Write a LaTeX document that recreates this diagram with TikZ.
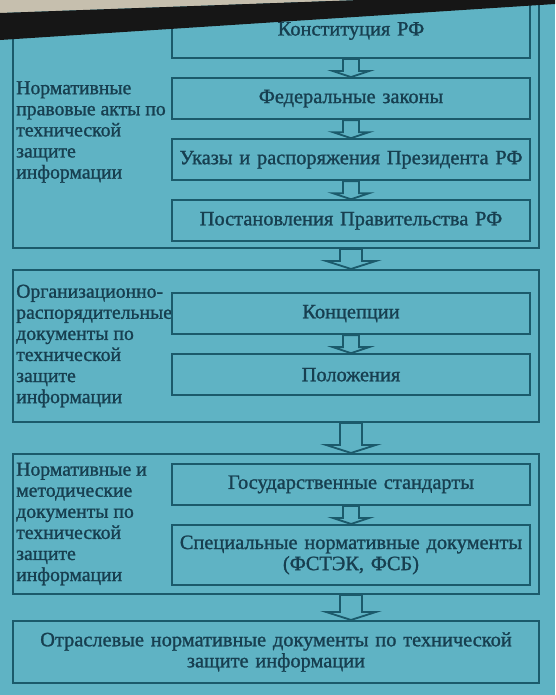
\documentclass[tikz,border=0pt]{standalone}
\usepackage{fontspec}
\setmainfont[FakeBold=1.2]{Liberation Serif}
\usetikzlibrary{positioning,calc}
\definecolor{slidebg}{HTML}{5FB3C4}
\definecolor{frame}{HTML}{1B5A6B}
\definecolor{ink}{HTML}{173F50}
\definecolor{bandk}{HTML}{161616}
\definecolor{wallc}{HTML}{C6BFAE}
\newcommand{\slidefont}{\fontsize{14.5}{15}\selectfont}
\newcommand{\sidefont}{\fontsize{14}{15}\selectfont}
% stem half width, head half width, head height, from, to
\newcommand{\hollowarrow}[5]{%
  \draw[hollow] let \p1=#4, \p2=#5 in
    (\x1-#1,\y1) -- (\x1-#1,\y2+#3) -- (\x1-#2,\y2+#3) -- (\x1,\y2)
    -- (\x1+#2,\y2+#3) -- (\x1+#1,\y2+#3) -- (\x1+#1,\y1) -- cycle;}
\tikzset{
  inbox/.style={rectangle, draw=frame, fill=slidebg, line width=1.5pt,
                minimum width=89.5mm, text width=88mm, align=center,
                minimum height=10.25mm, inner sep=0.5mm, font=\slidefont, text=ink},
  grp/.style={rectangle, draw=frame, line width=1.5pt, minimum width=131.5mm, inner sep=0pt},
  grplbl/.style={anchor=west, align=left, inner sep=0pt, font=\sidefont, text=ink},
  hollow/.style={draw=frame, fill=slidebg, line width=1.3pt, line join=miter}
}
\begin{document}
\begin{tikzpicture}[x=1mm, y=1mm, node distance=4.5mm]
\useasboundingbox (0,0) rectangle (138.75,-173.75);
\fill[slidebg] (0,0) rectangle (138.75,-173.75);
% group frames and their captions
\node[grp, minimum height=61.5mm] (g1) at (69,-31.25) {};
\node[grp, minimum height=38mm] (g2) at (69,-86.5) {};
\node[grp, minimum height=35mm] (g3) at (69,-131) {};
\node[grplbl] (l1) at (4,-33) {Нормативные\\правовые акты по\\технической\\защите\\информации};
\node[grplbl] (l2) at (4,-86.5) {Организационно-\\распорядительные\\документы по\\технической\\защите\\информации};
\node[grplbl] (l3) at (4,-131) {Нормативные и\\методические\\документы по\\технической\\защите\\информации};
% legal acts
\node[inbox, minimum height=13.5mm] (konst) at (87.75,-7.75) {Конституция РФ};
\node[inbox, below=of konst] (fz) {Федеральные законы};
\node[inbox, below=of fz] (ukaz) {Указы и распоряжения Президента РФ};
\node[inbox, below=of ukaz] (postan) {Постановления Правительства РФ};
% organisational documents
\node[inbox] (konc) at (87.75,-78.4) {Концепции};
\node[inbox, below=of konc] (polozh) {Положения};
% methodical documents
\node[inbox] (gost) at (87.75,-121.1) {Государственные стандарты};
\node[inbox, below=of gost, minimum height=15mm] (spec) {Специальные нормативные документы\\(ФСТЭК, ФСБ)};
% branch documents
\node[inbox, minimum width=131.5mm, text width=128mm, minimum height=15.5mm] (otr) at (69,-163)
  {Отраслевые нормативные документы по технической\\защите информации};
% arrows
\hollowarrow{2mm}{4.5mm}{1.5mm}{(konst.south)}{(fz.north)}
\hollowarrow{2mm}{4.5mm}{1.5mm}{(fz.south)}{(ukaz.north)}
\hollowarrow{2mm}{4.5mm}{1.5mm}{(ukaz.south)}{(postan.north)}
\hollowarrow{2mm}{4.5mm}{1.5mm}{(konc.south)}{(polozh.north)}
\hollowarrow{2mm}{4.5mm}{1.5mm}{(gost.south)}{(spec.north)}
\hollowarrow{2.75mm}{6.25mm}{2mm}{(g1.south -| postan)}{(g2.north)}
\hollowarrow{2.75mm}{6.25mm}{2mm}{(g2.south -| polozh)}{(g3.north)}
\hollowarrow{2.75mm}{6.25mm}{2mm}{(g3.south -| spec)}{(otr.north)}
% screen edge
\fill[wallc] (0,0) -- (90,0) -- (0,-3.25) -- cycle;
\fill[bandk] (0,-3.25) -- (90,0) -- (138.75,0) -- (138.75,-1) -- (0,-10) -- cycle;
\end{tikzpicture}
\end{document}
